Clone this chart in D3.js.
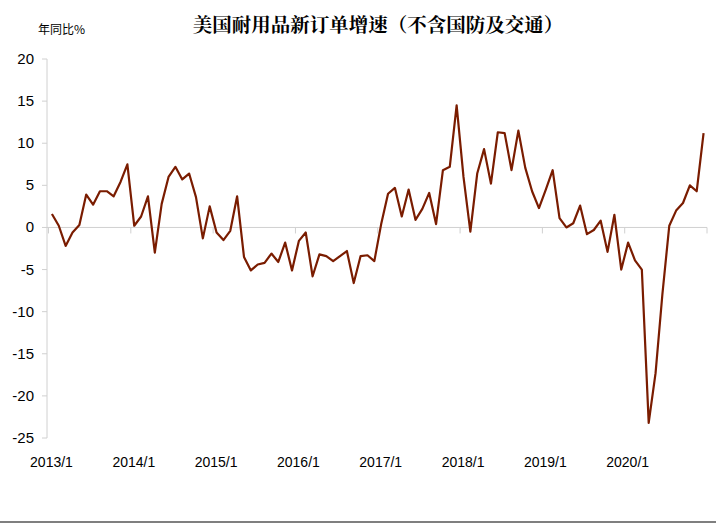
<!DOCTYPE html><html><head><meta charset="utf-8"><script src="https://cdn.jsdelivr.net/npm/d3@7"></script>
<style>body{margin:0;background:#fff}</style></head><body><svg id="c" width="716" height="530"></svg><script>
const values=[1.6,0.2,-2.2,-0.6,0.3,3.9,2.7,4.3,4.3,3.7,5.4,7.5,
0.2,1.3,3.7,-3.0,2.8,6.0,7.2,5.7,6.4,3.6,-1.3,2.5,
-0.6,-1.5,-0.4,3.7,-3.5,-5.1,-4.4,-4.2,-3.1,-4.1,-1.8,-5.1,
-1.6,-0.6,-5.8,-3.2,-3.4,-4.0,-3.4,-2.8,-6.6,-3.4,-3.3,-4.0,
0.4,4.0,4.7,1.3,4.5,0.9,2.2,4.1,0.4,6.8,7.2,14.5,
6.0,-0.5,6.4,9.3,5.2,11.3,11.2,6.8,11.5,7.1,4.3,2.3,
4.5,6.8,1.1,0.0,0.5,2.6,-0.8,-0.3,0.8,-2.9,1.5,-5.0,
-1.8,-3.9,-5.0,-23.2,-17.3,-7.9,0.2,2.0,2.9,5.0,4.3,11.2];
const years=[2013,2014,2015,2016,2017,2018,2019,2020];
const months=[];years.forEach(y=>{for(let m=1;m<=12;m++)months.push(y+"/"+m);});
const yTicks=[20,15,10,5,0,-5,-10,-15,-20,-25];
const title="美国耐用品新订单增速（不含国防及交通）";
const unit="年同比%";
const svg=d3.select("#c");
const x=d3.scaleBand().domain(months).range([48.5,707]);
const y=d3.scaleLinear().domain([-25,20]).range([438,59]);
const font="'Liberation Sans',Arial,sans-serif";
svg.append("line").attr("x1",47).attr("x2",47).attr("y1",59).attr("y2",438).attr("stroke","#d0d0d0");
yTicks.forEach(t=>{
 svg.append("line").attr("x1",42).attr("x2",47).attr("y1",y(t)).attr("y2",y(t)).attr("stroke","#d0d0d0");
 svg.append("text").attr("x",34).attr("y",y(t)+5).attr("text-anchor","end").attr("font-family",font).attr("font-size",15).attr("fill","#000").text(t);
});
svg.append("line").attr("x1",47).attr("x2",707).attr("y1",y(0)).attr("y2",y(0)).attr("stroke","#d0d0d0");
years.concat([2021]).forEach((yr,i)=>{
 const xx=i<years.length?x(yr+"/1"):707;
 svg.append("line").attr("x1",xx).attr("x2",xx).attr("y1",y(0)).attr("y2",y(0)+6).attr("stroke","#d0d0d0");
 if(i<years.length) svg.append("text").attr("x",xx+3).attr("y",467).attr("text-anchor","middle").attr("font-family",font).attr("font-size",14).text(yr+"/1");
});
const line=d3.line().x((d,i)=>x(months[i])+x.bandwidth()/2).y(d=>y(d));
svg.append("path").datum(values).attr("d",line).attr("fill","none").attr("stroke","#7a1c00").attr("stroke-width",2.2).attr("stroke-linejoin","round");
svg.append("text").attr("x",378).attr("y",32).attr("text-anchor","middle").attr("font-family","'Noto Serif CJK SC','Noto Sans CJK SC',serif").attr("font-size",19.5).attr("font-weight","bold").text(title);
svg.append("text").attr("x",38).attr("y",34).attr("font-family","'Noto Sans CJK SC',sans-serif").attr("font-size",12).text(unit);
svg.append("line").attr("x1",0).attr("x2",716).attr("y1",522).attr("y2",522).attr("stroke","#555").attr("stroke-width",1.5);
</script></body></html>
